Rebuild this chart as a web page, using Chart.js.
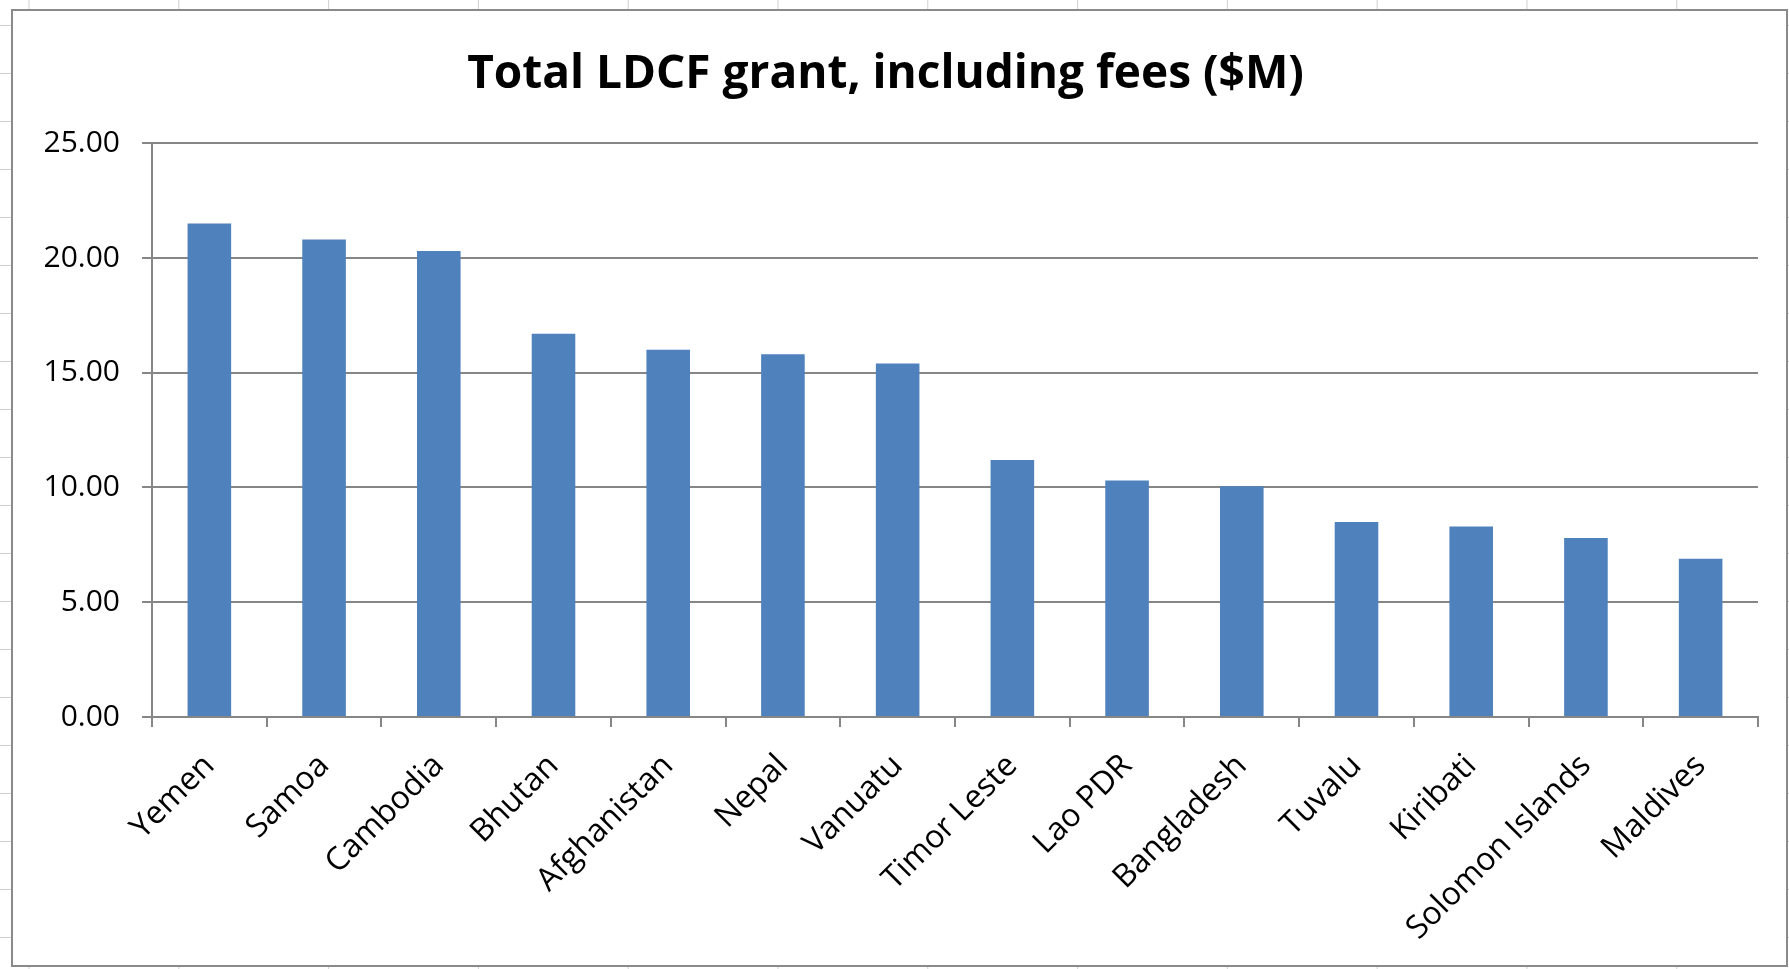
<!DOCTYPE html>
<html>
<head>
<meta charset="utf-8">
<script src="https://cdn.jsdelivr.net/npm/chart.js@4.4.0/dist/chart.umd.min.js"></script>
<style>
  html, body { margin: 0; padding: 0; width: 1789px; height: 969px; overflow: hidden; }
  body {
    background-color: #fff;
    /* spreadsheet cells peeking out round the chart */
    background-image:
      linear-gradient(to right, #cfcfcf 1px, transparent 1px),
      linear-gradient(to bottom, #cfcfcf 1px, transparent 1px);
    background-size: 149.8px 100%, 100% 48px;
    background-position: 28.5px 0, 0 25px;
  }
  #frame {
    position: absolute; left: 11px; top: 9px;
    width: 1777px; height: 958px;
    border: 2px solid #8a8a8a; box-sizing: border-box;
    background: #fff;
  }
</style>
</head>
<body>
<div id="frame"><canvas id="grantChart"></canvas></div>
<script>
// data
const countries = ["Yemen", "Samoa", "Cambodia", "Bhutan", "Afghanistan", "Nepal", "Vanuatu",
  "Timor Leste", "Lao PDR", "Bangladesh", "Tuvalu", "Kiribati", "Solomon Islands", "Maldives"];
const grantValues = [21.5, 20.8, 20.3, 16.7, 16.0, 15.8, 15.4, 11.2, 10.3, 10.05, 8.5, 8.3, 7.8, 6.9];
const yMin = 0;
const yMax = 25;
const yStep = 5;

const axisGrey = "#868686";
const fontFamily = "'Open Sans', 'Noto Sans', sans-serif";

var ctx = document.getElementById("grantChart").getContext("2d");
var chart = new Chart(ctx, {
  type: "bar",
  data: {
    labels: countries,
    datasets: [
      {
        label: "Total LDCF grant, including fees ($M)",
        data: grantValues,
        backgroundColor: "#4F81BD",
        borderWidth: 0,
        categoryPercentage: 1.0,
        barPercentage: 0.38,
      },
    ],
  },
  options: {
    responsive: true,
    maintainAspectRatio: false,
    animation: false,
    layout: { padding: { left: 0, right: 28, top: 0, bottom: 0 } },
    plugins: {
      legend: { display: false },
      tooltip: { enabled: false },
      title: {
        display: true,
        text: "Total LDCF grant, including fees ($M)",
        color: "#000",
        font: { family: fontFamily, size: 46, weight: "bold", lineHeight: 1.2 },
        padding: { top: 36, bottom: 41 },
      },
    },
    scales: {
      x: {
        offset: true,
        grid: {
          offset: true,
          drawOnChartArea: false,
          drawTicks: true,
          tickLength: 10,
          color: axisGrey,
          lineWidth: 2,
        },
        border: { display: true, color: axisGrey, width: 2 },
        ticks: {
          autoSkip: false,
          minRotation: 45,
          maxRotation: 45,
          color: "#000",
          font: { family: fontFamily, size: 32 },
          padding: 20,
        },
        afterFit: function (scale) {
          scale.height = 248;
        },
      },
      y: {
        min: yMin,
        max: yMax,
        grid: { color: axisGrey, lineWidth: 2, tickLength: 10 },
        border: { display: true, color: axisGrey, width: 2 },
        ticks: {
          stepSize: yStep,
          color: "#000",
          font: { family: fontFamily, size: 30 },
          padding: 22,
          callback: function (v) { return v.toFixed(2); },
        },
        afterFit: function (scale) {
          scale.width = 139;
        },
      },
    },
  },
});
</script>
</body>
</html>
